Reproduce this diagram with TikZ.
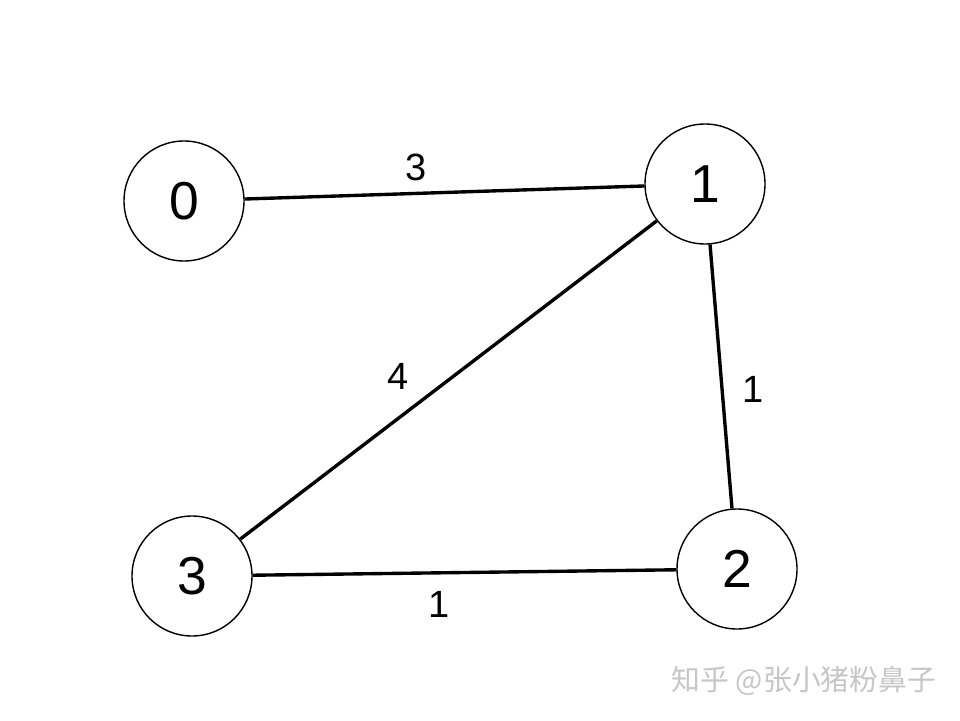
\documentclass[tikz,border=0pt]{standalone}
\usepackage{fontspec}
\setmainfont{Liberation Sans}
\newfontfamily\cjkfont{Noto Sans CJK SC}
\usetikzlibrary{positioning}

\begin{document}
\begin{tikzpicture}[
    vertex/.style={draw, circle, line width=1pt, minimum size=3cm,
                   inner sep=0pt, font=\fontsize{38}{40}\selectfont},
    edge/.style={line width=2.4pt},
    weight/.style={font=\fontsize{27}{30}\selectfont, inner sep=2pt},
    watermark/.style={font=\cjkfont\fontsize{20.5}{22}\selectfont, text=gray!45},
]

% canvas
\useasboundingbox (0,0) rectangle (24,18);

% ===================== VERTICES =====================
\node[vertex] (v0) at (4.6, 12.975) {0};
\node[vertex] (v1) at (17.625, 13.4) {1};
\node[vertex] (v2) at (18.425, 3.775) {2};
\node[vertex] (v3) at (4.8, 3.6) {3};

% ===================== EDGES =====================
\draw[edge] (v0) -- (v1) node[weight, pos=0.43, above=0.2cm] {3};
\draw[edge] (v1) -- (v3) node[weight, pos=0.62, above=0.6cm] {4};
\draw[edge] (v1) -- (v2) node[weight, pos=0.55, right=0.4cm] {1};
\draw[edge] (v3) -- (v2) node[weight, pos=0.44, below=0.35cm] {1};

% watermark
\node[watermark] (mark) at (20.1, 0.975) {知乎 @张小猪粉鼻子};

\end{tikzpicture}
\end{document}
